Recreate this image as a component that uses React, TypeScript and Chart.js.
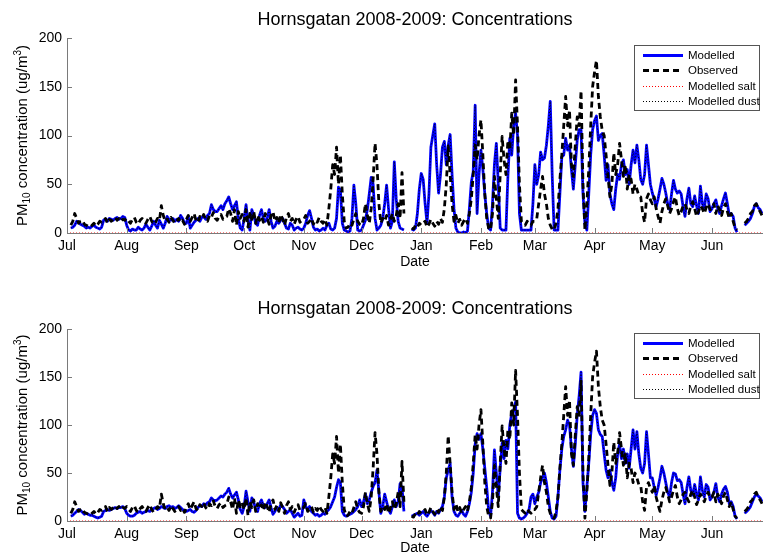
import React, { useEffect, useRef } from 'react';
import { Chart, registerables } from 'chart.js';

Chart.register(...registerables);

// ---------- axes / ticks ----------
const MONTH_DAYS = [0, 31, 62, 92, 123, 153, 184, 215, 243, 274, 304, 335];
const MONTH_LABELS = ['Jul', 'Aug', 'Sep', 'Oct', 'Nov', 'Dec', 'Jan', 'Feb', 'Mar', 'Apr', 'May', 'Jun'];
const Y_TICKS = [0, 50, 100, 150, 200];
const X_MAX = 361.5;
const START_DAY = 2; // first daily value = 3 Jul 2008

const TITLE = 'Hornsgatan 2008-2009: Concentrations';
const LEGEND_LABELS = ['Modelled', 'Observed', 'Modelled salt', 'Modelled dust'];

// ---------- data (daily, from day START_DAY) ----------
const OBSERVED: (number | null)[] = [
  // Jul
  8, 12, 20, 15, 10, 12, 13, 9, 8, 7, 6, 8, 10, 7, 9, 12, 11, 13, 15, 10, 14, 12, 14, 16, 13, 15, 12, 14, 13,
  // Aug
  15, 12, 10, 14, 16, 11, 9, 13, 15, 12, 10, 14, 17, 12, 9, 11, 15, 13, 28, 18, 12, 14, 11, 16, 13, 10, 12, 15, 11, 13, 9,
  // Sep
  14, 18, 12, 16, 20, 13, 11, 17, 15, 19, 14, 12, 18, 16, 21, 15, 13, 17, 19, 14, 16, 17, 25, 20, 12, 24, 8, 22, 15, 19,
  // Oct
  12, 24, 6, 20, 14, 22, 10, 18, 13, 17, 11, 20, 15, 9, 18, 22, 12, 16, 10, 19, 14, 8, 16, 20, 12, 15, 9, 14, 17, 11, 13,
  // Nov
  14, 18, 10, 12, 15, 9, 13, 11, 16, 12, 10, 14, 8, 25, 45, 70, 60, 88, 50, 80, 40, 12, 5, 6, 10, 8, 14, 20, 12, 9,
  // Dec
  8, 15, 30, 18, 10, 25, 55, 92, 70, 30, 10, 15, 12, 18, 8, 14, 20, 12, 18, 30, 15, 62, 20, null, null, null, 5, 4, 8, 6, 10,
  // Jan
  8, 10, 12, 6, 9, 14, 10, 7, 12, 9, 15, 11, 25, 50, 89, 60, 30, 12, 18, 10, 14, 8, 12, 15, 10, 20, 35, 60, 90, 75, 100,
  // Feb
  116, 80, 40, 15, 5, 3, 20, 58, 35, 15, 60, 99, 75, 60, 95, 85, 123, 100, 157, 110, 50, 12, 10, 8, 12, 10, 8, 12,
  // Mar
  12, 15, 30, 45, 58, 40, 30, 15, 8, 4, 3, 10, 25, 55, 80, 110, 140, 110, 126, 70, 58, 90, 119, 110, 146, 50, 3, 30, 65, 110, 150,
  // Apr
  165, 177, 140, 119, 105, 100, 80, 58, 37, 50, 82, 60, 70, 92, 75, 58, 70, 45, 60, 55, 40, 50, 45, 38, 37, 20, 11, 35, 40, 34,
  // May
  30, 37, 25, 17, 10, 22, 30, 35, 28, 20, 25, 32, 37, 25, 18, 22, 28, 30, 24, 20, 28, 32, 25, 17, 22, 28, 25, 20, 26, 30, 24,
  // Jun
  25, 30, 20, 28, 24, 18, 26, 30, 22, 15, 20, 12, 5, 3, null, null, null, 10, 12, 15, 20, 22, 28, 30, 25, 22, 18,
];

const MODELLED_TOP: (number | null)[] = [
  // Jul
  5, 6, 8, 12, 11, 9, 8, 7, 5, 6, 5, 7, 8, 6, 5, 4, 6, 13, 14, 12, 15, 14, 13, 15, 16, 14, 15, 17, 16,
  // Aug
  8, 3, 2, 4, 3, 3, 6, 4, 3, 5, 9, 6, 3, 7, 12, 8, 5, 13, 9, 5, 10, 17, 14, 13, 15, 12, 14, 12, 18, 15, 10,
  // Sep
  10, 17, 5, 8, 11, 13, 15, 12, 16, 17, 14, 18, 20, 29, 24, 22, 22, 25, 28, 24, 30, 33, 37, 30, 24, 28, 32, 15, 5, 3,
  // Oct
  15, 29, 12, 3, 24, 18, 10, 8, 18, 24, 15, 12, 15, 24, 12, 5, 7, 12, 10, 13, 15, 10, 5, 4, 10, 8, 3, 5, 6, 4, 3,
  // Nov
  5, 10, 18, 23, 15, 6, 3, 4, 2, 3, 5, 3, 8, 10, 4, 3, 5, 15, 47, 44, 10, 3, 2, 1, 2, 15, 49, 30, 3, 2,
  // Dec
  3, 8, 13, 24, 40, 57, 50, 15, 3, 5, 8, 15, 30, 49, 25, 5, 12, 73, 35, 12, 5, 4, 3, null, null, null, 4, 3, 5, 20, 45,
  // Jan
  61, 55, 30, 10, 40, 88, 100, 112, 70, 41, 60, 88, 94, 70, 90, 101, 60, 25, 5, 1, 0, 0, 1, 0, 2, 25, 52, 63, 131, 20, 60,
  // Feb
  85, 65, 40, 20, 5, 3, 30, 70, 92, 50, 5, 3, 3, 3, 58, 97, 80, 110, 123, 100, 20, 3, 3, 3, 3, 3, 3, 30,
  // Mar
  70, 50, 60, 83, 75, 77, 90, 110, 135, 60, 3, 3, 3, 40, 78, 80, 97, 85, 90, 65, 45, 70, 95, 106, 106, 40, 10, 3, 40, 80, 106,
  // Apr
  115, 120, 95, 100, 102, 80, 54, 70, 40, 30, 24, 45, 60, 55, 70, 75, 60, 65, 50, 70, 85, 72, 90, 75, 55, 50, 60, 90, 70, 50,
  // May
  41, 35, 27, 35, 45, 56, 50, 41, 30, 24, 40, 54, 45, 41, 43, 40, 27, 17, 35, 46, 30, 27, 38, 28, 20, 48, 30, 25, 40, 35, 22,
  // Jun
  25, 30, 34, 25, 20, 28, 35, 41, 30, 18, 20, 17, 5, 1, null, null, null, 8, 10, 12, 15, 20, 27, 30, 26, 24, 20,
];

const MODELLED_BOTTOM: (number | null)[] = [
  // Jul
  5, 6, 8, 10, 12, 11, 9, 7, 8, 7, 6, 6, 5, 4, 3, 4, 5, 10, 11, 12, 11, 12, 13, 14, 13, 14, 14, 15, 13,
  // Aug
  8, 6, 5, 5, 6, 8, 9, 10, 8, 9, 10, 11, 10, 12, 13, 14, 12, 13, 15, 14, 13, 15, 16, 14, 15, 13, 14, 16, 14, 12, 11,
  // Sep
  10, 11, 12, 10, 9, 11, 14, 16, 15, 18, 17, 19, 20, 24, 22, 21, 22, 24, 26, 25, 28, 30, 34, 28, 24, 27, 30, 22, 12, 8,
  // Oct
  15, 31, 20, 10, 24, 20, 12, 10, 18, 22, 16, 14, 18, 22, 14, 7, 10, 14, 12, 17, 15, 12, 8, 10, 12, 8, 4, 6, 8, 5, 6,
  // Nov
  22, 15, 12, 15, 10, 8, 6, 7, 5, 6, 8, 7, 10, 12, 15, 20, 25, 35, 43, 40, 10, 6, 5, 6, 7, 8, 10, 12, 15, 22,
  // Dec
  15, 20, 28, 18, 22, 30, 36, 40, 53, 30, 8, 15, 28, 20, 12, 8, 15, 22, 15, 20, 39, 35, 10, null, null, null, 5, 6, 7, 8, 6,
  // Jan
  8, 10, 7, 5, 8, 11, 9, 6, 10, 8, 12, 15, 25, 45, 53, 60, 25, 10, 6, 5, 8, 11, 7, 5, 10, 18, 30, 50, 80, 91, 85,
  // Feb
  91, 75, 55, 35, 11, 5, 30, 74, 50, 25, 55, 81, 65, 84, 75, 100, 112, 115, 124, 8, 3, 2, 3, 5, 8, 12, 25, 28,
  // Mar
  18, 25, 30, 40, 45, 50, 40, 25, 10, 3, 2, 5, 25, 53, 75, 88, 95, 105, 100, 75, 57, 80, 110, 130, 155, 40, 10, 35, 60, 90, 110,
  // Apr
  116, 112, 95, 90, 88, 70, 53, 45, 53, 40, 32, 45, 70, 80, 65, 75, 60, 70, 55, 75, 95, 75, 93, 70, 55, 50, 60, 93, 70, 45,
  // May
  45, 35, 27, 35, 45, 57, 50, 40, 30, 25, 40, 50, 49, 42, 43, 40, 28, 18, 35, 46, 32, 27, 38, 28, 22, 46, 32, 25, 38, 35, 22,
  // Jun
  25, 30, 39, 25, 20, 28, 33, 36, 30, 18, 20, 15, 5, 2, null, null, null, 8, 10, 12, 15, 20, 25, 28, 26, 24, 20,
];

// salt is ~0 over the whole period
const SALT_DAYS = [0, 361];
const SALT_VALUES = [0, 0];

// ---------- styles ----------
const FONT = '"Liberation Sans", Arial, Helvetica, sans-serif';
const AXIS_COLOR = '#7a7a7a';
const BLUE = '#0000ff';

const SERIES_STYLE = [
  { color: BLUE, width: 2.8, dash: [] as number[] },
  { color: '#000000', width: 2.8, dash: [6, 4] },
  { color: '#ff0000', width: 1, dash: [1, 2] },
  { color: '#000000', width: 1, dash: [1, 2] },
];

const toPoints = (vals: (number | null)[]) => vals.map((v, i) => ({ x: START_DAY + i, y: v }));

const decorPlugin = {
  id: 'decor',
  afterDraw(chart: any, _args: any, opts: any) {
    const { ctx, chartArea: a, scales } = chart;
    const xs = scales.x;
    const ys = scales.y;
    ctx.save();

    // inward tick marks
    ctx.strokeStyle = AXIS_COLOR;
    ctx.lineWidth = 1;
    ctx.setLineDash([]);
    ctx.beginPath();
    Y_TICKS.forEach((v) => {
      const py = Math.round(ys.getPixelForValue(v)) + 0.5;
      ctx.moveTo(a.left, py);
      ctx.lineTo(a.left + 5, py);
    });
    MONTH_DAYS.forEach((d) => {
      const px = Math.round(xs.getPixelForValue(d)) + 0.5;
      ctx.moveTo(px, a.bottom);
      ctx.lineTo(px, a.bottom - 5);
    });
    ctx.stroke();

    const cx = (a.left + a.right) / 2;
    ctx.fillStyle = '#000';
    ctx.textAlign = 'center';
    ctx.textBaseline = 'middle';
    ctx.font = `18px ${FONT}`;
    ctx.fillText(TITLE, cx, opts.titleY);

    ctx.font = `14px ${FONT}`;
    ctx.fillText('Date', cx, a.bottom + opts.dateOffset);

    // y-axis label with sub/superscript
    const parts = [
      { t: 'PM', s: 15, dy: 0 },
      { t: '10', s: 10, dy: 4 },
      { t: ' concentration (ug/m', s: 15, dy: 0 },
      { t: '3', s: 10, dy: -5 },
      { t: ')', s: 15, dy: 0 },
    ];
    let total = 0;
    parts.forEach((p) => {
      ctx.font = `${p.s}px ${FONT}`;
      total += ctx.measureText(p.t).width;
    });
    ctx.save();
    ctx.translate(23, (a.top + a.bottom) / 2);
    ctx.rotate(-Math.PI / 2);
    ctx.textAlign = 'left';
    let px = -total / 2;
    parts.forEach((p) => {
      ctx.font = `${p.s}px ${FONT}`;
      ctx.fillText(p.t, px, p.dy);
      px += ctx.measureText(p.t).width;
    });
    ctx.restore();

    // legend
    const L = { x: 634, y: opts.legendTop, w: 125, h: 65 };
    ctx.fillStyle = '#fff';
    ctx.fillRect(L.x, L.y, L.w, L.h);
    ctx.strokeStyle = '#555';
    ctx.lineWidth = 1;
    ctx.strokeRect(L.x + 0.5, L.y + 0.5, L.w, L.h);
    LEGEND_LABELS.forEach((label, i) => {
      const st = SERIES_STYLE[i];
      const ry = Math.round(L.y + 10 + i * 15.4) + 0.5;
      ctx.strokeStyle = st.color;
      ctx.lineWidth = st.width;
      ctx.setLineDash(st.dash);
      ctx.beginPath();
      ctx.moveTo(643, ry);
      ctx.lineTo(683, ry);
      ctx.stroke();
      ctx.setLineDash([]);
      ctx.fillStyle = '#000';
      ctx.font = `11.5px ${FONT}`;
      ctx.textAlign = 'left';
      ctx.textBaseline = 'middle';
      ctx.fillText(label, 688, ry);
    });

    ctx.restore();
  },
};

function makeConfig(modelled: (number | null)[], padTop: number, xHeight: number, titleY: number, legendTop: number, dateOffset: number) {
  const ds = (label: string, data: any[], i: number, order: number) => ({
    label,
    data,
    borderColor: SERIES_STYLE[i].color,
    borderWidth: SERIES_STYLE[i].width,
    borderDash: SERIES_STYLE[i].dash,
    borderJoinStyle: 'round' as const,
    pointRadius: 0,
    fill: false,
    tension: 0,
    spanGaps: false,
    order,
  });
  return {
    type: 'line' as const,
    data: {
      datasets: [
        ds(LEGEND_LABELS[0], toPoints(modelled), 0, 4),
        ds(LEGEND_LABELS[1], toPoints(OBSERVED), 1, 3),
        ds(LEGEND_LABELS[2], SALT_DAYS.map((d, i) => ({ x: d, y: SALT_VALUES[i] })), 2, 2),
        ds(LEGEND_LABELS[3], toPoints(modelled), 3, 1),
      ],
    },
    options: {
      responsive: false,
      animation: false as const,
      devicePixelRatio: 1,
      parsing: false as const,
      normalized: true,
      layout: { padding: { top: padTop, left: 0, right: 0, bottom: 0 } },
      plugins: {
        legend: { display: false },
        tooltip: { enabled: false },
        title: { display: false },
        decor: { titleY, legendTop, dateOffset },
      },
      scales: {
        x: {
          type: 'linear' as const,
          min: 0,
          max: X_MAX,
          grid: { display: false, drawTicks: false },
          border: { display: true, color: AXIS_COLOR, width: 1 },
          ticks: {
            padding: 5,
            autoSkip: false,
            maxRotation: 0,
            color: '#000',
            font: { family: FONT, size: 14 },
            callback: (v: any) => {
              const idx = MONTH_DAYS.indexOf(Number(v));
              return idx >= 0 ? MONTH_LABELS[idx] : '';
            },
          },
          afterBuildTicks: (s: any) => {
            s.ticks = MONTH_DAYS.map((v) => ({ value: v }));
          },
          afterFit: (s: any) => {
            s.height = xHeight;
          },
        },
        y: {
          min: 0,
          max: 200,
          grid: { display: false, drawTicks: false },
          border: { display: true, color: AXIS_COLOR, width: 1 },
          ticks: {
            stepSize: 50,
            padding: 5,
            color: '#000',
            font: { family: FONT, size: 14 },
          },
          afterBuildTicks: (s: any) => {
            s.ticks = Y_TICKS.map((v) => ({ value: v }));
          },
          afterFit: (s: any) => {
            s.width = 67;
          },
        },
      },
    },
    plugins: [decorPlugin],
  };
}

export default function App() {
  const topRef = useRef<HTMLCanvasElement>(null);
  const botRef = useRef<HTMLCanvasElement>(null);

  useEffect(() => {
    const c1 = new Chart(topRef.current as HTMLCanvasElement, makeConfig(MODELLED_TOP, 38, 56, 20, 45, 29) as any);
    const c2 = new Chart(botRef.current as HTMLCanvasElement, makeConfig(MODELLED_BOTTOM, 40, 32, 20, 44, 27) as any);
    return () => {
      c1.destroy();
      c2.destroy();
    };
  }, []);

  return (
    <div style={{ position: 'fixed', left: 0, top: 0, width: 763, height: 553, background: '#fff', overflow: 'hidden' }}>
      <canvas ref={topRef} width={763} height={289} style={{ position: 'absolute', left: 0, top: 0, width: 763, height: 289 }} />
      <canvas ref={botRef} width={763} height={264} style={{ position: 'absolute', left: 0, top: 289, width: 763, height: 264 }} />
    </div>
  );
}
